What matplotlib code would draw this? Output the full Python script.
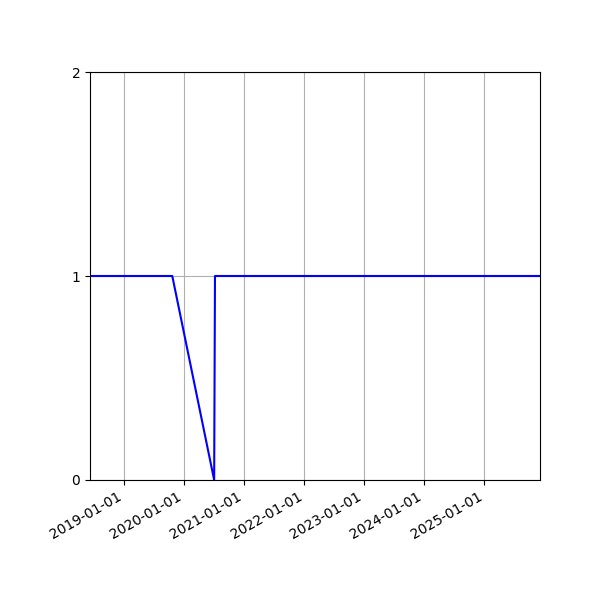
import numpy as np
import matplotlib
matplotlib.use('Agg')
import matplotlib.pyplot as plt
import matplotlib.dates as mdates

dates = np.array(['2018-06-06', '2019-10-20', '2020-07-01', '2020-07-06', '2025-12-06'],
                 dtype='datetime64[D]')
values = [1, 1, 0, 1, 1]

fig, ax = plt.subplots(figsize=(6, 6), dpi=100)
ax.plot(dates, values, color='blue')
ax.set_xlim(dates[0], dates[-1])
ax.set_ylim(0, 2)
ax.set_yticks([0, 1, 2])
ax.xaxis.set_major_locator(mdates.YearLocator())
ax.xaxis.set_major_formatter(mdates.DateFormatter('%Y-%m-%d'))
ax.grid(True)
fig.autofmt_xdate()
fig.subplots_adjust(left=0.15, right=0.9, top=0.88, bottom=0.2)
fig.savefig('out.png')
